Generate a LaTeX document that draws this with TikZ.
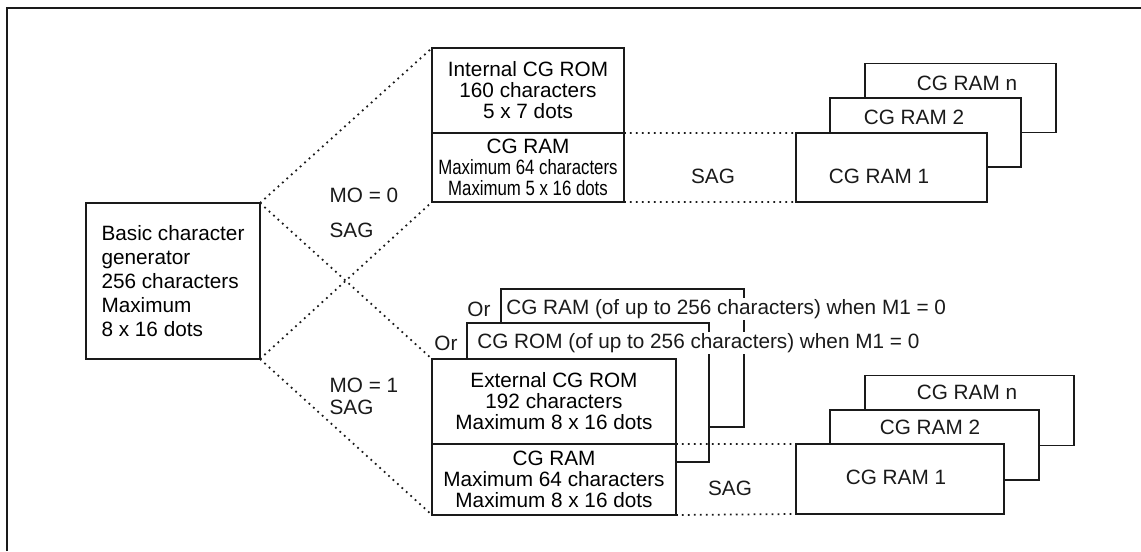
\documentclass[tikz,border=0pt]{standalone}
\usepackage{fontspec}
\setmainfont{Liberation Sans}
\newfontfamily\narrowsf[FakeStretch=0.81]{Liberation Sans}
\usepackage{tikz}
\usetikzlibrary{positioning}
\definecolor{Ink}{HTML}{1A1A1A}

\begin{document}
\begin{tikzpicture}[
  blk/.style={draw=Ink,line width=1pt,fill=white,rectangle,outer sep=0pt,inner sep=0pt,align=center,font=\fontsize{11.8}{12}\selectfont},
  txt/.style={font=\fontsize{11.8}{13.7}\selectfont,inner sep=1pt,text=Ink},
  cut/.style={txt,fill=white,anchor=west},
  dotline/.style={line width=1pt,dash pattern=on 1pt off 2.4pt,color=Ink}
]
\useasboundingbox (0,0) rectangle (22.82,11.02);
\draw[line width=0.9pt,Ink] (0.14,0) |- (22.82,10.86);

% generator and the two modes
\node[blk,minimum width=3.48cm,minimum height=3.12cm,align=left,font=\fontsize{11.8}{13.7}\selectfont] (basic) at (3.46,5.4) {Basic character\\generator\\256 characters\\Maximum\\8 x 16 dots};

\node[blk,minimum width=3.84cm,minimum height=1.70cm] (introm) at (10.56,9.21) {Internal CG ROM\\160 characters\\5 x 7 dots};
\node[blk,minimum width=3.84cm,minimum height=1.38cm,below=0pt of introm] (intram) {CG RAM\\{\narrowsf Maximum 64 characters}\\{\narrowsf Maximum 5 x 16 dots}};

\node[blk,minimum width=4.86cm,minimum height=2.76cm] (ramback) at (12.45,3.86) {};
\node[blk,minimum width=4.84cm,minimum height=2.78cm] (romback) at (11.76,3.17) {};
\node[cut] (ramtxt) at (10.085,4.84) {CG RAM (of up to 256 characters) when M1 = 0};
\node[cut] (romtxt) at (9.505,4.16) {CG ROM (of up to 256 characters) when M1 = 0};
\node[txt] (or1) at (9.58,4.84) {Or};
\node[txt] (or2) at (8.92,4.16) {Or};

\node[blk,minimum width=4.88cm,minimum height=1.70cm] (extrom) at (11.08,2.99) {External CG ROM\\192 characters\\Maximum 8 x 16 dots};
\node[blk,minimum width=4.88cm,minimum height=1.42cm,below=0pt of extrom] (extram) {CG RAM\\Maximum 64 characters\\Maximum 8 x 16 dots};

\node[txt,anchor=west] (mo0) at (6.55,7.12) {MO = 0};
\node[txt,anchor=west] (sag0) at (6.55,6.42) {SAG};
\node[txt,anchor=west] (mo1) at (6.55,3.32) {MO = 1};
\node[txt,anchor=west] (sag1) at (6.55,2.88) {SAG};

\draw[dotline] (basic.north east) -- (introm.north west);
\draw[dotline] (basic.north east) -- (extrom.north west);
\draw[dotline] (basic.south east) -- (intram.south west);
\draw[dotline] (basic.south east) -- (extram.south west);

% CG RAM stacks
\node[blk,minimum width=3.82cm,minimum height=1.38cm] (ramna) at (19.21,9.06) {};
\node[blk,minimum width=3.82cm,minimum height=1.38cm] (ram2a) at (18.51,8.37) {};
\node[blk,minimum width=3.82cm,minimum height=1.38cm] (ram1a) at (17.83,7.67) {};
\node[txt] (labna) at (19.34,9.36) {CG RAM n};
\node[txt] (lab2a) at (18.28,8.68) {CG RAM 2};
\node[txt] (lab1a) at (17.58,7.5) {CG RAM 1};

\node[blk,minimum width=4.18cm,minimum height=1.40cm] (ramnb) at (19.39,2.81) {};
\node[blk,minimum width=4.18cm,minimum height=1.40cm] (ram2b) at (18.69,2.12) {};
\node[blk,minimum width=4.16cm,minimum height=1.40cm] (ram1b) at (18.0,1.44) {};
\node[txt] (labnb) at (19.34,3.18) {CG RAM n};
\node[txt] (lab2b) at (18.6,2.48) {CG RAM 2};
\node[txt] (lab1b) at (17.92,1.48) {CG RAM 1};

\draw[dotline] (introm.south east) -- (ram1a.north west);
\draw[dotline] (intram.south east) -- (ram1a.south west);
\draw[dotline] (extrom.south east) -- (ram1b.north west);
\draw[dotline] (extram.south east) -- (ram1b.south west);
\node[txt] (saga) at (14.26,7.5) {SAG};
\node[txt] (sagb) at (14.6,1.26) {SAG};
\end{tikzpicture}
\end{document}
